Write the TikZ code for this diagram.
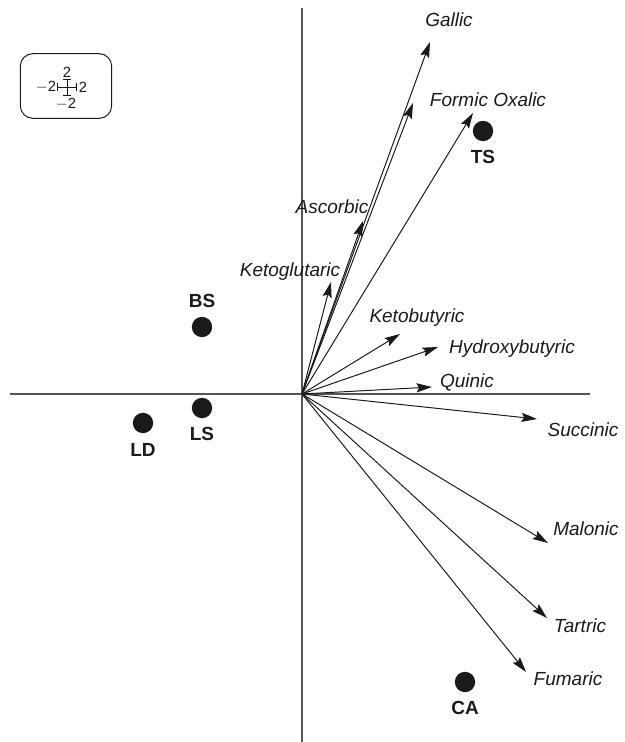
\documentclass[tikz,border=0pt]{standalone}
\usepackage{fontspec}
\setmainfont{Liberation Sans}
\usepackage{tikz}
\usetikzlibrary{arrows.meta,positioning}
\definecolor{bpink}{HTML}{1A1A1A}
\definecolor{baxis}{HTML}{555555}

\begin{document}
\begin{tikzpicture}[x=0.025cm,y=-0.025cm]
        \useasboundingbox (0,0) rectangle (624,742);
        \tikzset{
          loading/.style={-{Stealth[length=11pt,width=6.5pt,inset=1.8pt]},line width=0.7pt,bpink},
          acid/.style={font=\fontsize{13.5}{15}\selectfont\itshape,bpink,inner sep=0pt},
          site/.style={circle,fill=bpink,minimum size=14.5pt,inner sep=0pt},
          sitelab/.style={font=\fontsize{13.5}{15}\selectfont\bfseries,bpink,inner sep=0pt},
          scalelab/.style={font=\fontsize{10.5}{11}\selectfont,bpink,inner sep=0pt}
        }

        % Axes
        \coordinate (o) at (302,394);
        \coordinate (xl) at (10,394);
        \coordinate (xr) at (590,394);
        \coordinate (yt) at (302,8);
        \coordinate (yb) at (302,742);
        \draw[baxis,line width=1pt] (xl) -- (xr);
        \draw[baxis,line width=1pt] (yt) -- (yb);

        % Scale box
        \node[draw=bpink,line width=0.7pt,rounded corners=9pt,
          minimum width=65pt,minimum height=46pt] (scalebox) at (66,86) {};
        \node[scalelab] (sctop) at (67,72) {2};
        \node[scalelab] (scbot) at (66,104) {$-$2};
        \node[scalelab] (scleft) at (46,87) {$-$2};
        \node[scalelab] (scright) at (83,87) {2};
        \coordinate (cl) at (57,87);
        \coordinate (cr) at (77,87);
        \coordinate (ct) at (67,79);
        \coordinate (cb) at (67,96);
        \draw[bpink,line width=0.7pt,{Bar[width=5.5pt]}-{Bar[width=5.5pt]}] (cl) -- (cr);
        \draw[bpink,line width=0.7pt,{Bar[width=5.5pt]}-{Bar[width=5.5pt]}] (ct) -- (cb);

        % Loadings
        \coordinate (gallic) at (430,42);
        \coordinate (formic) at (413,103);
        \coordinate (oxalic) at (473,113);
        \coordinate (ascorbic) at (363,221);
        \coordinate (ketoglu) at (331,282);
        \coordinate (ketobut) at (400,334);
        \coordinate (hydroxy) at (438,347);
        \coordinate (quinic) at (432,387);
        \coordinate (succinic) at (537,419);
        \coordinate (malonic) at (548,543);
        \coordinate (tartric) at (547,618);
        \coordinate (fumaric) at (526,672);
        \draw[loading] (o) -- (gallic);
        \draw[loading] (o) -- (formic);
        \draw[loading] (o) -- (oxalic);
        \draw[loading] (o) -- (ascorbic);
        \draw[loading] (o) -- (ketoglu);
        \draw[loading] (o) -- (ketobut);
        \draw[loading] (o) -- (hydroxy);
        \draw[loading] (o) -- (quinic);
        \draw[loading] (o) -- (succinic);
        \draw[loading] (o) -- (malonic);
        \draw[loading] (o) -- (tartric);
        \draw[loading] (o) -- (fumaric);

        \node[acid] (lgallic) at (449,20) {Gallic};
        \node[acid] (lformic) at (488,100) {Formic Oxalic};
        \node[acid] (lascorbic) at (332,207) {Ascorbic};
        \node[acid] (lketoglu) at (290,272) {Ketoglutaric};
        \node[acid] (lketobut) at (417,318) {Ketobutyric};
        \node[acid] (lhydroxy) at (512,349) {Hydroxybutyric};
        \node[acid] (lquinic) at (467,382) {Quinic};
        \node[acid] (lsuccinic) at (583,430) {Succinic};
        \node[acid] (lmalonic) at (586,529) {Malonic};
        \node[acid] (ltartric) at (580,626) {Tartric};
        \node[acid] (lfumaric) at (568,679) {Fumaric};

        % Sites
        \node[site] (ts) at (483,131) {};
        \node[sitelab] (lts) at (483,157) {TS};
        \node[site] (bs) at (202,327) {};
        \node[sitelab] (lbs) at (202,301) {BS};
        \node[site] (ls) at (202,408) {};
        \node[sitelab] (lls) at (202,434) {LS};
        \node[site] (ld) at (143,423) {};
        \node[sitelab] (lld) at (143,450) {LD};
        \node[site] (ca) at (465,682) {};
        \node[sitelab] (lca) at (465,708) {CA};
      \end{tikzpicture}
\end{document}
